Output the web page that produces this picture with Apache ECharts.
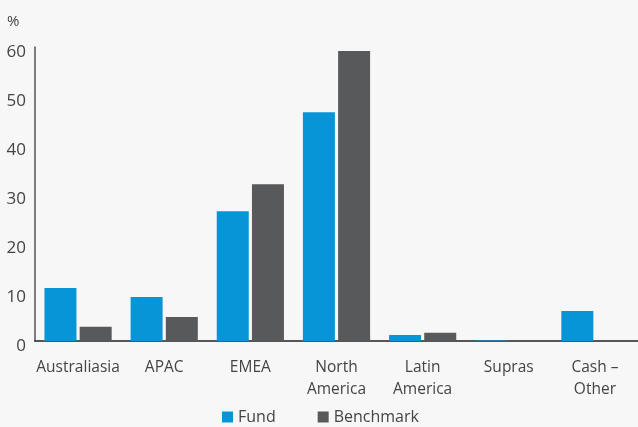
<!DOCTYPE html>
<html><head><meta charset="utf-8">
<script src="https://cdn.jsdelivr.net/npm/echarts@6/dist/echarts.min.js"></script>
<style>html,body{margin:0;padding:0;background:#f7f7f7}#c{width:638px;height:427px}</style>
</head><body><div id="c"></div>
<script>
var categories = ['Australiasia', 'APAC', 'EMEA', 'North\nAmerica', 'Latin\nAmerica', 'Supras', 'Cash –\nOther'];
var fund = [10.8, 9.0, 26.5, 46.7, 1.2, 0.1, 6.1];
var benchmark = [2.9, 4.9, 32.0, 59.2, 1.7, 0, 0];
var yTicks = [0, 10, 20, 30, 40, 50, 60];
var FONT = '"Open Sans", "Noto Sans", sans-serif';
var chart = echarts.init(document.getElementById('c'));
chart.setOption({
  backgroundColor: '#f7f7f7',
  animation: false,
  textStyle: {fontFamily: FONT, color: '#444'},
  grid: {left: 35, right: 0, top: 47, bottom: 86},
  title: {text: '%', left: 2, top: 9, textStyle: {fontFamily: FONT, fontSize: 15, fontWeight: 'normal', color: '#444'}},
  legend: {
    bottom: -3, left: 217, itemWidth: 11, itemHeight: 11, itemGap: 42,
    icon: 'rect',
    textStyle: {fontFamily: FONT, fontSize: 16, color: '#444'},
    data: ['Fund', 'Benchmark']
  },
  xAxis: {
    type: 'category', data: categories,
    axisLine: {lineStyle: {color: '#222', width: 1.5}},
    axisTick: {show: false},
    axisLabel: {fontFamily: FONT, fontSize: 15.5, color: '#444', lineHeight: 22, margin: 16, interval: 0}
  },
  yAxis: {
    type: 'value', min: yTicks[0], max: yTicks[yTicks.length - 1], interval: 10,
    axisLine: {show: true, lineStyle: {color: '#555', width: 1.5}},
    axisTick: {show: false},
    splitLine: {show: false},
    axisLabel: {fontFamily: FONT, fontSize: 17, color: '#444', margin: 9, verticalAlign: 'top', lineHeight: 11}
  },
  series: [
    {name: 'Fund', type: 'bar', data: fund, barWidth: 32, barGap: '10%', itemStyle: {color: '#0795d7'}},
    {name: 'Benchmark', type: 'bar', data: benchmark, barWidth: 32, itemStyle: {color: '#58595b'}}
  ]
});
</script></body></html>
